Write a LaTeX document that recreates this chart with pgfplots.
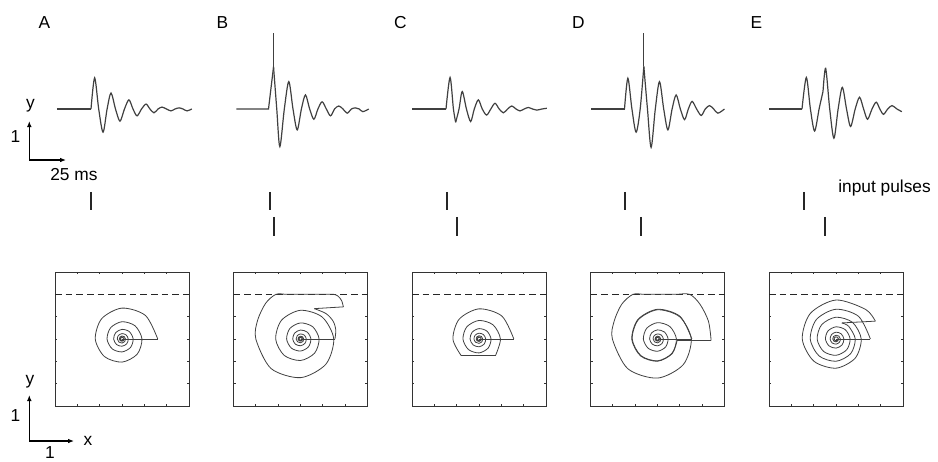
\documentclass[border=0pt]{standalone}
\usepackage{fontspec}
\setmainfont{Liberation Sans}
\usepackage{pgfplots}
\pgfplotsset{compat=1.18}
\usetikzlibrary{arrows.meta}

% styles shared by the five columns
\pgfplotsset{
  trace/.style={hide axis, x=1.05pt, y=28.5pt, xmin=-30, xmax=80,
    ymin=-3.6, ymax=2.2, clip=false, anchor=south west},
  wave/.style={black!75, line width=0.9pt},
  pulse/.style={black!85, line width=1.45pt},
  phase/.style={scale only axis, width=100.5pt, height=100.5pt,
    xmin=-1.5, xmax=1.5, ymin=-1.5, ymax=1.5,
    xtick={-1,-0.5,0,0.5,1}, ytick={-1,-0.5,0,0.5,1},
    xticklabels={,,,,,}, yticklabels={,,,,,}, tick align=inside,
    xtick pos=both, ytick pos=both, major tick length=1.8pt,
    major tick style={black!80, line width=0.55pt},
    axis line style={black!80, line width=0.6pt},
    clip=false, anchor=south west},
  orbit/.style={black!75, line width=0.6pt},
  thr/.style={black!85, line width=0.6pt, dash pattern=on 5pt off 3pt},
}

\begin{document}
\begin{tikzpicture}[font=\fontsize{13}{15}\selectfont]

% ---------------- top traces (x in ms, y in units) ----------------
% A
\begin{axis}[trace, at={(36.75pt,-184.35pt)}]
\addplot[wave] coordinates {(-24.3,0) (0,0)};
\addplot[wave, smooth] coordinates {
  (0,0) (2.6,0.82) (5.5,0) (8.6,-0.61) (11.5,0) (14.3,0.42) (17.5,0)
  (20.7,-0.32) (23.9,0) (27.1,0.24) (30,0) (32.9,-0.18) (36.1,0)
  (39.3,0.13) (42.1,0) (45,-0.10) (47.9,0) (50.7,0.05) (53.9,0)
  (57.1,-0.05) (60,0) (62.9,0.03) (65.7,0) (68.6,-0.05) (72,0)};
\addplot[pulse] coordinates {(0.2,-2.18) (0.2,-2.66)};
\end{axis}

% B
\begin{axis}[trace, at={(169.875pt,-184.35pt)}]
\addplot[wave] coordinates {(-22.9,0) (0,0) (3.6,1.11)};
\addplot[wave] coordinates {(3.6,1.11) (3.6,2.0)};
\addplot[wave, smooth] coordinates {
  (3.6,1.11) (5.9,0) (8.1,-0.99) (11.3,0) (14.5,0.72) (17.5,0)
  (20.5,-0.55) (23.5,0) (26.4,0.37) (29.4,0) (32.4,-0.27) (35.3,0)
  (38.3,0.19) (41.3,0) (44.3,-0.18) (47.2,0) (50.2,0.08) (53.2,0)
  (56.2,-0.11) (59.2,0) (62.1,0.03) (64.8,0) (67.4,-0.07) (71.6,0)};
\addplot[pulse] coordinates {(0.95,-2.18) (0.95,-2.66)};
\addplot[pulse] coordinates {(3.8,-2.84) (3.8,-3.34)};
\end{axis}

% C
\begin{axis}[trace, at={(303pt,-184.35pt)}]
\addplot[wave] coordinates {(-24.1,0) (0,0)};
\addplot[wave, smooth] coordinates {(0,0) (2.9,0.83) (5.3,0) (6.9,-0.35)};
\addplot[wave, smooth] coordinates {
  (6.9,-0.35) (9.3,0) (11.6,0.46) (14.6,0) (17.6,-0.33) (20.2,0)
  (23.1,0.24) (25.9,0) (29,-0.16) (32,0) (35,0.15) (38,0) (41,-0.10)
  (44,0) (47,0.08) (50,0) (52.9,-0.05) (55.8,0) (58.8,0.04) (61.8,0)
  (64.8,-0.03) (68.5,0) (72,0.02)};
\addplot[pulse] coordinates {(0.7,-2.18) (0.7,-2.66)};
\addplot[pulse] coordinates {(7.6,-2.84) (7.6,-3.34)};
\end{axis}

% D
\begin{axis}[trace, at={(436.875pt,-184.35pt)}]
\addplot[wave] coordinates {(-23.8,0) (0,0)};
\addplot[wave, smooth] coordinates {
  (0,0) (2.4,0.81) (5.3,0) (8.3,-0.61) (11.2,0) (13.8,1.12)};
\addplot[wave] coordinates {(13.8,1.12) (13.8,2.01)};
\addplot[wave, smooth] coordinates {
  (13.8,1.12) (16.4,0) (19.0,-1.01) (22,0) (25,0.72) (28,0) (31,-0.55)
  (34,0) (36.9,0.37) (39.9,0) (42.9,-0.28) (45.6,0) (48.3,0.20)
  (51.5,0) (54.8,-0.17) (57.7,0) (60.7,0.09) (63.7,0) (66.7,-0.11)
  (71.4,0)};
\addplot[pulse] coordinates {(0.2,-2.18) (0.2,-2.66)};
\addplot[pulse] coordinates {(11.9,-2.84) (11.9,-3.34)};
\end{axis}

% E
\begin{axis}[trace, at={(570pt,-184.35pt)}]
\addplot[wave] coordinates {(-23.4,0) (0,0)};
\addplot[wave, smooth] coordinates {
  (0,0) (3.1,0.83) (6,0) (9.0,-0.58) (12.2,0) (15,0.46)};
\addplot[wave, smooth] coordinates {
  (15,0.46) (16.9,1.07) (19.8,0) (22.8,-0.77) (25.8,0) (28.8,0.57)
  (31.8,0) (34.7,-0.46) (38,0) (41.1,0.31) (44,0) (46.8,-0.27) (50,0)
  (53,0.18) (55.6,0) (58.2,-0.14) (61.2,0) (64.3,0.09) (67.8,0)
  (71.3,-0.07)};
\addplot[pulse] coordinates {(1.5,-2.18) (1.5,-2.66)};
\addplot[pulse] coordinates {(16.1,-2.84) (16.1,-3.34)};
\end{axis}

% ---------------- phase planes (x, y) ----------------
% A
\begin{axis}[phase, at={(41.25pt,-304.5pt)}]
\addplot[thr] coordinates {(-1.5,1) (1.5,1)};
\addplot[orbit] coordinates {(0,0) (0.80,0)};
\addplot[orbit, smooth] coordinates {
  (0.80,0) (0.526,0.526) (0,0.692) (-0.455,0.455) (-0.598,0)
  (-0.393,-0.393) (0,-0.517) (0.340,-0.340) (0.447,0) (0.294,0.294)
  (0,0.387) (-0.254,0.254) (-0.335,0) (-0.220,-0.220) (0,-0.289)
  (0.190,-0.190) (0.250,0) (0.165,0.165) (0,0.216) (-0.142,0.142)
  (-0.187,0) (-0.123,-0.123) (0,-0.162) (0.107,-0.107) (0.140,0)
  (0.092,0.092) (0,0.121) (-0.080,0.080) (-0.105,0) (-0.069,-0.069)
  (0,-0.091) (0.060,-0.060) (0.078,0) (0.052,0.052) (0,0.068)
  (-0.045,0.045) (-0.059,0) (-0.039,-0.039) (0,-0.051) (0.033,-0.033)
  (0.044,0) (0.029,0.029) (0,0.038) (-0.025,0.025) (-0.033,0)
  (-0.022,-0.022) (0,-0.028) (0.019,-0.019) (0.025,0)};
\end{axis}

% B
\begin{axis}[phase, at={(175.125pt,-304.5pt)}]
\addplot[thr] coordinates {(-1.5,1) (1.5,1)};
\addplot[orbit] coordinates {(0,0) (0.77,0)};
\addplot[orbit, smooth] coordinates {
  (0.77,0) (0.79,0.20) (0.73,0.40) (0.57,0.57) (0.31,0.68)};
\addplot[orbit] coordinates {(0.31,0.68) (0.96,0.72)};
\addplot[orbit, smooth] coordinates {
  (0.96,0.72) (0.92,0.86) (0.84,0.96) (0.74,1.0) (0.5,1.0) (0.1,1.0)
  (-0.3,1.0) (-0.55,1.0) (-0.78,0.80) (-0.96,0.42) (-1.0,0)
  (-0.66,-0.66) (0,-0.865) (0.566,-0.566) (0.744,0) (0.489,0.489)
  (0,0.643) (-0.423,0.423) (-0.556,0) (-0.366,-0.366) (0,-0.481)
  (0.316,-0.316) (0.416,0) (0.274,0.274) (0,0.360) (-0.237,0.237)
  (-0.311,0) (-0.204,-0.204) (0,-0.269) (0.177,-0.177) (0.233,0)
  (0.153,0.153) (0,0.201) (-0.132,0.132) (-0.174,0) (-0.115,-0.115)
  (0,-0.151) (0.099,-0.099) (0.130,0) (0.086,0.086) (0,0.113)
  (-0.074,0.074) (-0.098,0) (-0.064,-0.064) (0,-0.084) (0.055,-0.055)
  (0.073,0) (0.048,0.048) (0,0.063) (-0.042,0.042) (-0.055,0)
  (-0.036,-0.036) (0,-0.047) (0.031,-0.031) (0.041,0) (0.027,0.027)
  (0,0.035) (-0.023,0.023) (-0.031,0) (-0.020,-0.020) (0,-0.026)
  (0.018,-0.018) (0.023,0)};
\end{axis}

% C
\begin{axis}[phase, at={(309pt,-304.5pt)}]
\addplot[thr] coordinates {(-1.5,1) (1.5,1)};
\addplot[orbit] coordinates {(0,0) (0.78,0)};
\addplot[orbit, smooth] coordinates {
  (0.78,0) (0.513,0.513) (0,0.675) (-0.444,0.444) (-0.584,0)
  (-0.40,-0.37)};
\addplot[orbit] coordinates {(-0.40,-0.37) (0.37,-0.37)};
\addplot[orbit, smooth] coordinates {
  (0.37,-0.37) (0.48,0) (0.316,0.316) (0,0.415) (-0.273,0.273)
  (-0.359,0) (-0.236,-0.236) (0,-0.311) (0.204,-0.204) (0.269,0)
  (0.177,0.177) (0,0.233) (-0.153,0.153) (-0.201,0) (-0.132,-0.132)
  (0,-0.174) (0.115,-0.115) (0.151,0) (0.099,0.099) (0,0.130)
  (-0.086,0.086) (-0.113,0) (-0.074,-0.074) (0,-0.098) (0.064,-0.064)
  (0.084,0) (0.055,0.055) (0,0.073) (-0.048,0.048) (-0.063,0)
  (-0.042,-0.042) (0,-0.055) (0.036,-0.036) (0.047,0) (0.031,0.031)
  (0,0.041) (-0.027,0.027) (-0.035,0) (-0.023,-0.023) (0,-0.031)
  (0.020,-0.020) (0.026,0)};
\end{axis}

% D
\begin{axis}[phase, at={(442.875pt,-304.5pt)}]
\addplot[thr] coordinates {(-1.5,1) (1.5,1)};
\addplot[orbit] coordinates {(0,0) (0.77,0)};
\addplot[orbit, smooth] coordinates {
  (0.77,0) (0.506,0.506) (0,0.666) (-0.438,0.438) (-0.576,0)
  (-0.379,-0.379) (0,-0.498) (0.328,-0.328) (0.44,-0.03)};
\addplot[orbit] coordinates {(0.44,-0.03) (1.20,-0.03)};
\addplot[orbit, smooth] coordinates {
  (1.20,-0.03) (1.14,0.40) (0.95,0.78) (0.72,1.0) (0.4,1.0) (0,1.0)
  (-0.3,1.0) (-0.55,1.0) (-0.80,0.78) (-0.97,0.40) (-1.01,0)
  (-0.665,-0.665) (0,-0.875) (0.575,-0.575) (0.756,0) (0.497,0.497)
  (0,0.654) (-0.430,0.430) (-0.566,0) (-0.372,-0.372) (0,-0.489)
  (0.322,-0.322) (0.423,0) (0.278,0.278) (0,0.366) (-0.241,0.241)
  (-0.317,0) (-0.208,-0.208) (0,-0.274) (0.180,-0.180) (0.237,0)
  (0.156,0.156) (0,0.205) (-0.135,0.135) (-0.177,0) (-0.116,-0.116)
  (0,-0.153) (0.101,-0.101) (0.132,0) (0.087,0.087) (0,0.114)
  (-0.075,0.075) (-0.099,0) (-0.065,-0.065) (0,-0.086) (0.056,-0.056)
  (0.074,0) (0.049,0.049) (0,0.064) (-0.042,0.042) (-0.055,0)
  (-0.036,-0.036) (0,-0.048) (0.032,-0.032) (0.041,0) (0.027,0.027)
  (0,0.036) (-0.024,0.024) (-0.031,0) (-0.020,-0.020) (0,-0.027)
  (0.018,-0.018) (0.023,0)};
\end{axis}

% E
\begin{axis}[phase, at={(576.75pt,-304.5pt)}]
\addplot[thr] coordinates {(-1.5,1) (1.5,1)};
\addplot[orbit] coordinates {(0,0) (0.77,0)};
\addplot[orbit, smooth] coordinates {
  (0.77,0) (0.506,0.506) (0,0.666) (-0.438,0.438) (-0.576,0)
  (-0.379,-0.379) (0,-0.498) (0.328,-0.328) (0.431,0) (0.284,0.284)
  (0.13,0.36)};
\addplot[orbit] coordinates {(0.13,0.36) (0.88,0.40)};
\addplot[orbit, smooth] coordinates {
  (0.88,0.40) (0.663,0.663) (0,0.873) (-0.574,0.574) (-0.755,0)
  (-0.496,-0.496) (0,-0.653) (0.429,-0.429) (0.565,0) (0.371,0.371)
  (0,0.488) (-0.321,0.321) (-0.422,0) (-0.278,-0.278) (0,-0.365)
  (0.240,-0.240) (0.316,0) (0.208,0.208) (0,0.273) (-0.180,0.180)
  (-0.236,0) (-0.155,-0.155) (0,-0.204) (0.134,-0.134) (0.177,0)
  (0.116,0.116) (0,0.153) (-0.100,0.100) (-0.132,0) (-0.087,-0.087)
  (0,-0.114) (0.075,-0.075) (0.099,0) (0.065,0.065) (0,0.085)
  (-0.056,0.056) (-0.074,0) (-0.049,-0.049) (0,-0.064) (0.042,-0.042)
  (0.055,0) (0.036,0.036) (0,0.048) (-0.032,0.032) (-0.041,0)
  (-0.027,-0.027) (0,-0.036) (0.023,-0.023) (0.031,0)};
\end{axis}

% ---------------- labels and scale bars (pixel frame) ----------------
\begin{scope}[x=0.75pt, y=-0.75pt]
\path[use as bounding box] (0,0) rectangle (938,461);
\node[anchor=base] at (44.5,28) {A};
\node[anchor=base] at (222.5,28) {B};
\node[anchor=base] at (400.5,28) {C};
\node[anchor=base] at (578.5,28) {D};
\node[anchor=base] at (756.5,28) {E};
\node[anchor=base west, inner sep=0pt] at (838,192) {input pulses};

\draw[{Latex[length=4.5pt,width=3.5pt]}-{Latex[length=4.5pt,width=3.5pt]},
  line width=0.85pt] (29.3,121) -- (29.3,160) -- (66,160);
\node[anchor=base] at (30.5,108) {y};
\node[anchor=base] at (15.5,142) {1};
\node[anchor=base west, inner sep=0pt] at (50,180) {25 ms};

\draw[{Latex[length=4.5pt,width=3.5pt]}-{Latex[length=4.5pt,width=3.5pt]},
  line width=0.85pt] (29.3,395) -- (29.3,441) -- (74,441);
\node[anchor=base] at (30,384.5) {y};
\node[anchor=base] at (15.5,421.7) {1};
\node[anchor=base] at (88,445.7) {x};
\node[anchor=base, inner sep=0pt] at (50,458) {1};
\end{scope}
\end{tikzpicture}
\end{document}
